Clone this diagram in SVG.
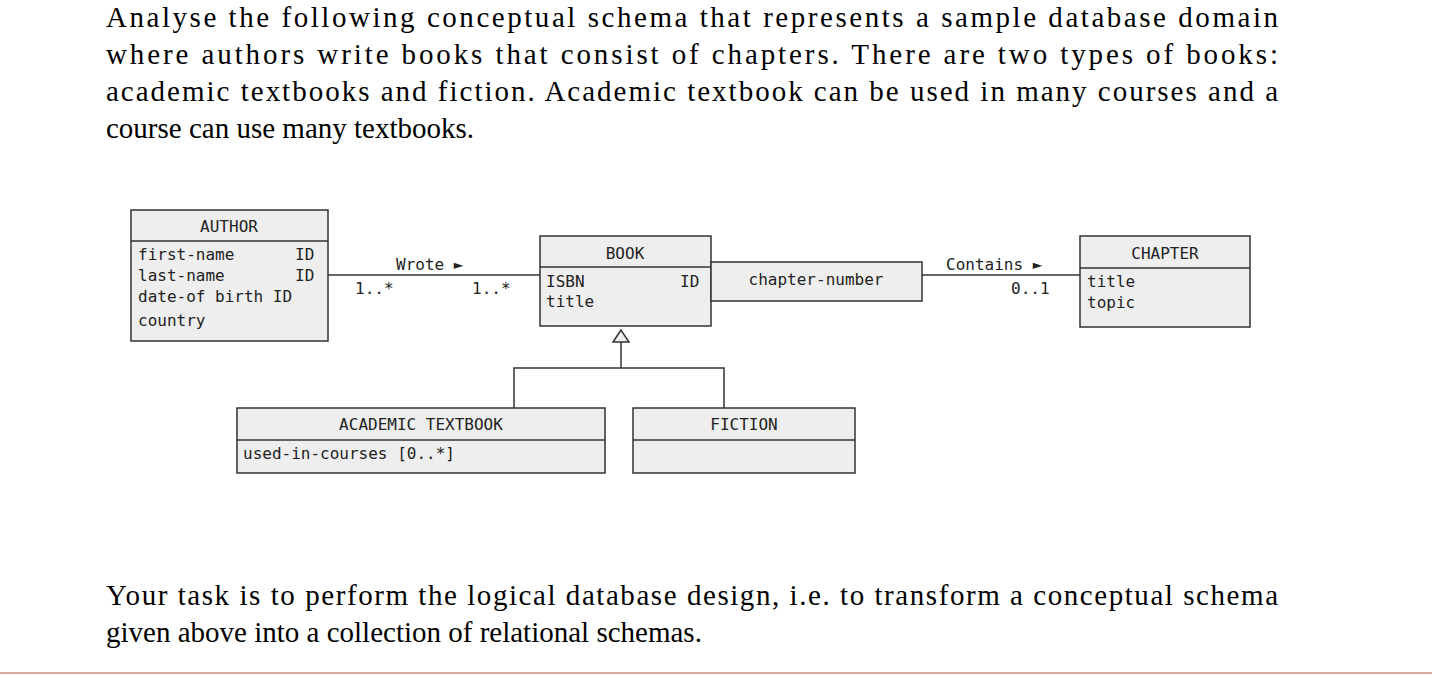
<svg xmlns="http://www.w3.org/2000/svg" width="1432" height="675" viewBox="0 0 1432 675">
<style>
.p{font-family:"Liberation Serif",serif;font-size:29px;fill:#000}
.m{font-family:"DejaVu Sans Mono",monospace;font-size:16px;fill:#222}
.b{fill:#eeeeee;stroke:#333;stroke-width:1.5}
.l{stroke:#333;stroke-width:1.5;fill:none}
</style>
<rect width="1432" height="675" fill="#fff"/>
<text class="p" x="106" y="27" textLength="1172" lengthAdjust="spacing">Analyse the following conceptual schema that represents a sample database domain</text>
<text class="p" x="106" y="64" textLength="1172" lengthAdjust="spacing">where authors write books that consist of chapters. There are two types of books:</text>
<text class="p" x="106" y="101" textLength="1172" lengthAdjust="spacing">academic textbooks and fiction. Academic textbook can be used in many courses and a</text>
<text class="p" x="106" y="138">course can use many textbooks.</text>
<text class="p" x="106" y="605" textLength="1172" lengthAdjust="spacing">Your task is to perform the logical database design, i.e. to transform a conceptual schema</text>
<text class="p" x="106" y="642">given above into a collection of relational schemas.</text>
<line x1="0" y1="673" x2="1432" y2="673" stroke="#d9a9a0" stroke-width="2"/>
<g id="connectors">
<line class="l" x1="328" y1="275" x2="540" y2="275"/>
<text class="m" x="396" y="270">Wrote ►</text>
<text class="m" x="355" y="294">1..*</text>
<text class="m" x="472" y="294">1..*</text>
<line class="l" x1="922" y1="275" x2="1080" y2="275"/>
<text class="m" x="946" y="270">Contains ►</text>
<text class="m" x="1011" y="294">0..1</text>
<polygon points="621,330 613,342 629,342" fill="#eee" stroke="#333" stroke-width="1.5"/>
<polyline class="l" points="621,342 621,368"/>
<polyline class="l" points="514,408 514,368 724,368 724,408"/>
</g>
<g id="author">
<rect class="b" x="131" y="210" width="197" height="131"/>
<line class="l" x1="131" y1="241" x2="328" y2="241"/>
<text class="m" x="229" y="232" text-anchor="middle">AUTHOR</text>
<text class="m" x="138" y="260">first-name</text><text class="m" x="295" y="260">ID</text>
<text class="m" x="138" y="281">last-name</text><text class="m" x="295" y="281">ID</text>
<text class="m" x="138" y="302">date-of birth ID</text>
<text class="m" x="138" y="326">country</text>
</g>
<g id="book">
<rect class="b" x="540" y="236" width="171" height="90"/>
<line class="l" x1="540" y1="267" x2="711" y2="267"/>
<text class="m" x="625" y="259" text-anchor="middle">BOOK</text>
<text class="m" x="546" y="287">ISBN</text><text class="m" x="680" y="287">ID</text>
<text class="m" x="546" y="307">title</text>
</g>
<g id="qualifier">
<rect class="b" x="711" y="262" width="211" height="39"/>
<text class="m" x="816" y="285" text-anchor="middle">chapter-number</text>
</g>
<g id="chapter">
<rect class="b" x="1080" y="236" width="170" height="91"/>
<line class="l" x1="1080" y1="268" x2="1250" y2="268"/>
<text class="m" x="1165" y="259" text-anchor="middle">CHAPTER</text>
<text class="m" x="1087" y="287">title</text>
<text class="m" x="1087" y="308">topic</text>
</g>
<g id="academic">
<rect class="b" x="237" y="408" width="368" height="65"/>
<line class="l" x1="237" y1="440" x2="605" y2="440"/>
<text class="m" x="421" y="430" text-anchor="middle">ACADEMIC TEXTBOOK</text>
<text class="m" x="243" y="459">used-in-courses [0..*]</text>
</g>
<g id="fiction">
<rect class="b" x="633" y="408" width="222" height="65"/>
<line class="l" x1="633" y1="440" x2="855" y2="440"/>
<text class="m" x="744" y="430" text-anchor="middle">FICTION</text>
</g>
</svg>
